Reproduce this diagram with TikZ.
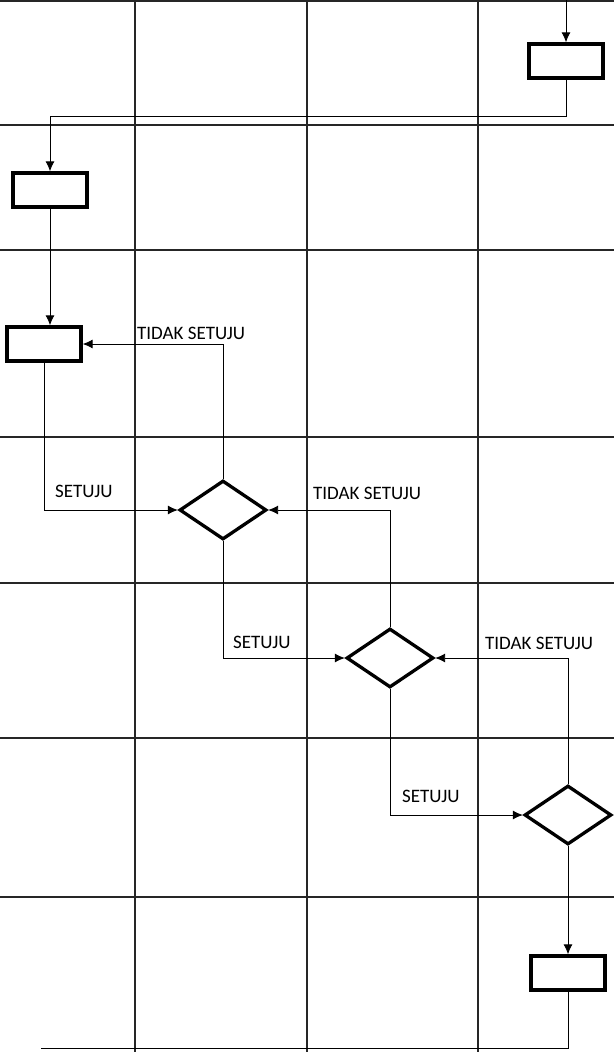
\documentclass[tikz,border=0pt]{standalone}
\usepackage{fontspec}
\setmainfont{Carlito}
\usetikzlibrary{arrows.meta,shapes.geometric,positioning}

\begin{document}
\begin{tikzpicture}[x=1pt,y=-1pt,
    gridline/.style={line width=1.8pt, black!85},
    proses/.style={draw, line width=3.3pt, minimum width=74pt, minimum height=34pt, inner sep=0pt},
    putusan/.style={draw, diamond, line width=3.3pt, minimum width=87pt, minimum height=59pt, inner sep=0pt},
    flow/.style={line width=0.9pt, -{Latex[length=10pt,width=9pt]}},
    ket/.style={font=\fontsize{19}{22}\selectfont, anchor=base west, inner sep=0pt}]
    \useasboundingbox (0,0) rectangle (614,1052);

    % kolom dan baris
    \foreach \gx in {135,307,478}
        \draw[gridline] (\gx,0) -- (\gx,1052);
    \foreach \gy in {0.9,125,250,437,583,738,897}
        \draw[gridline] (0,\gy) -- (614,\gy);

    \node[proses] (b1) at (566,61) {};
    \node[proses] (b2) at (50,190) {};
    \node[proses] (b3) at (44,344) {};
    \node[putusan] (d1) at (223,510) {};
    \node[putusan] (d2) at (390,658) {};
    \node[putusan] (d3) at (568,815) {};
    \node[proses] (b4) at (568,973) {};

    \coordinate (mulai) at (b1.north |- 0,0);
    \coordinate (akhir) at (41,1048);

    \draw[flow] (mulai) -- (b1.north);
    \draw[flow] (b1.south) -- ++(0,37) -| (b2.north);
    \draw[flow] (b2.south) -- (b2.south |- b3.north);

    \draw[flow] (d1.north) |- (b3.east);
    \draw[flow] (b3.south) |- (d1.west);
    \draw[flow] (d2.north) |- (d1.east);
    \draw[flow] (d1.south) |- (d2.west);
    \draw[flow] (d3.north) |- (d2.east);
    \draw[flow] (d2.south) |- (d3.west);
    \draw[flow] (d3.south) -- (b4.north);
    \draw[line width=0.9pt] (b4.south) |- (akhir);

    \node[ket] (t1) at (137,339) {TIDAK SETUJU};
    \node[ket] (s1) at (55,497) {SETUJU};
    \node[ket] (t2) at (313,499) {TIDAK SETUJU};
    \node[ket] (s2) at (233,648) {SETUJU};
    \node[ket] (t3) at (485,649) {TIDAK SETUJU};
    \node[ket] (s3) at (402,802) {SETUJU};
\end{tikzpicture}
\end{document}
